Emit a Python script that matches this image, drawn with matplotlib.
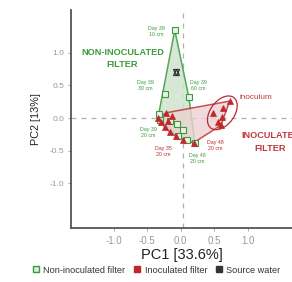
import matplotlib
matplotlib.use("Agg")
import matplotlib.pyplot as plt
from matplotlib.patches import Ellipse, Polygon
from matplotlib.lines import Line2D

plt.rcParams['font.family'] = ['Liberation Sans', 'DejaVu Sans']

# PCA scores
non_inoc_pc1 = [-0.09, -0.24, 0.12, -0.33, -0.31, -0.16, -0.06, 0.03, -0.04, 0.09, 0.21]
non_inoc_pc2 = [1.35, 0.37, 0.32, 0.06, -0.03, -0.05, -0.09, -0.18, -0.28, -0.34, -0.38]

inoc_pc1 = [-0.34, -0.30, -0.24, -0.16, -0.07, 0.04, 0.19, -0.19, -0.13, -0.22,
            0.73, 0.48, 0.63, 0.61, 0.60, 0.55]
inoc_pc2 = [0.00, -0.06, -0.14, -0.22, -0.28, -0.34, -0.38, -0.05, 0.03, 0.08,
            0.26, 0.08, 0.15, 0.02, -0.11, -0.06]

source_pc1 = [-0.07]
source_pc2 = [0.71]

# sample annotations: (text, x, y, colour key)
day_labels = [
    ("Day 39\n10 cm", -0.36, 1.33, "g"),
    ("Day 39\n30 cm", -0.53, 0.50, "g"),
    ("Day 39\n60 cm", 0.26, 0.50, "g"),
    ("Day 39\n20 cm", -0.48, -0.22, "g"),
    ("Day 48\n20 cm", 0.24, -0.62, "g"),
    ("Day 35\n20 cm", -0.26, -0.51, "r"),
    ("Day 48\n20 cm", 0.51, -0.42, "r"),
]

GREEN = "#3c9a3c"
RED = "#c0272d"


def hull(xs, ys):
    pts = sorted(set(zip(xs, ys)))

    def cross(o, a, b):
        return (a[0] - o[0]) * (b[1] - o[1]) - (a[1] - o[1]) * (b[0] - o[0])

    lower, upper = [], []
    for p in pts:
        while len(lower) >= 2 and cross(lower[-2], lower[-1], p) <= 0:
            lower.pop()
        lower.append(p)
    for p in reversed(pts):
        while len(upper) >= 2 and cross(upper[-2], upper[-1], p) <= 0:
            upper.pop()
        upper.append(p)
    return lower[:-1] + upper[:-1]


fig = plt.figure(figsize=(2.92, 2.82), dpi=100)
ax = fig.add_axes([0.243, 0.191, 0.757, 0.774])

ax.axhline(0, color="#b0b0b0", lw=0.9, ls=(0, (4, 4)), zorder=0)
ax.axvline(0.03, color="#b0b0b0", lw=0.9, ls=(0, (4, 4)), zorder=0)

ax.add_patch(Polygon(hull(non_inoc_pc1, non_inoc_pc2), closed=True,
                     facecolor="#cfe3cf", edgecolor=GREEN, lw=1.1, alpha=0.85, zorder=1))
ax.add_patch(Polygon(hull(inoc_pc1, inoc_pc2), closed=True,
                     facecolor="#ecd2d2", edgecolor=RED, lw=1.1, alpha=0.8, zorder=2))

ax.plot(non_inoc_pc1, non_inoc_pc2, ls="none", marker="s", ms=4.2,
        mfc="#e6f2e6", mec=GREEN, mew=0.8, zorder=3)
ax.plot(inoc_pc1, inoc_pc2, ls="none", marker="^", ms=4.5,
        mfc=RED, mec=RED, mew=0.5, zorder=4)
ax.plot(source_pc1, source_pc2, ls="none", marker="^", ms=5,
        mfc="none", mec="#333333", mew=0.9, zorder=4)
ax.plot(source_pc1, source_pc2, ls="none", marker="v", ms=5,
        mfc="none", mec="#333333", mew=0.9, zorder=4)

ax.add_patch(Ellipse((0.62, 0.08), 0.36, 0.58, angle=-35, fill=False,
                     edgecolor=RED, lw=0.9, zorder=5))

for txt, x, y, c in day_labels:
    ax.text(x, y, txt, fontsize=3.8, color=GREEN if c == "g" else RED,
            ha="center", va="center", linespacing=1.3, zorder=6)

ax.text(-0.87, 0.91, "NON-INOCULATED\nFILTER", fontsize=6.6, fontweight="bold",
        color=GREEN, ha="center", va="center", linespacing=1.5)
ax.text(1.34, -0.37, "INOCULATED\nFILTER", fontsize=6.6, fontweight="bold",
        color="#c0393d", ha="center", va="center", linespacing=1.5, clip_on=False)
ax.text(0.88, 0.31, "inoculum", fontsize=5.9, color="#c0393d", ha="left", va="center")

ax.set_xlim(-1.64, 1.66)
ax.set_ylim(-1.69, 1.66)
ax.set_xticks([-1.0, -0.5, 0.0, 0.5, 1.0])
ax.set_yticks([-1.0, -0.5, 0.0, 0.5, 1.0])
ax.set_xticklabels(["-1.0", "-0.5", "0.0", "0.5", "1.0"])
ax.set_yticklabels(["-1.0", "-0.5", "0.0", "0.5", "1.0"])
ax.tick_params(axis="x", labelsize=7, colors="#999999", length=2, width=0.6, pad=4)
ax.tick_params(axis="y", labelsize=6, colors="#999999", length=2, width=0.6, pad=3)

for side in ("top", "right"):
    ax.spines[side].set_visible(False)
for side in ("left", "bottom"):
    ax.spines[side].set_color("#555555")
    ax.spines[side].set_linewidth(1.3)

ax.set_xlabel("PC1 [33.6%]", fontsize=10.5, color="#222222", labelpad=1)
ax.set_ylabel("PC2 [13%]", fontsize=7.8, color="#222222", labelpad=6)

handles = [
    Line2D([], [], ls="none", marker="s", ms=5, mfc="#d8ecd8", mec=GREEN, mew=1),
    Line2D([], [], ls="none", marker="s", ms=5, mfc=RED, mec=RED, mew=1),
    Line2D([], [], ls="none", marker="s", ms=5, mfc="#333333", mec="#333333", mew=1),
]
fig.legend(handles, ["Non-inoculated filter", "Inoculated filter", "Source water"],
           loc="lower left", bbox_to_anchor=(0.085, 0.0), ncol=3, frameon=False,
           fontsize=6.6, handlelength=0.8, handletextpad=0.4, columnspacing=0.9,
           labelcolor="#333333", borderaxespad=0.4)

fig.savefig("out.png", dpi=100)
